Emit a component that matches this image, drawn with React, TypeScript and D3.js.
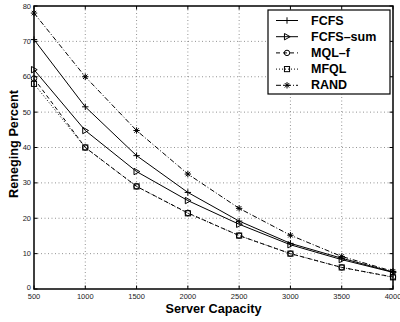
import React from "react";
import * as d3 from "d3";

const capacities = [500, 1000, 1500, 2000, 2500, 3000, 3500, 4000];
const fcfs = [70.5, 51.5, 37.7, 27.3, 19.2, 12.9, 8.7, 4.8];
const fcfsSum = [62, 44.8, 33.2, 25, 18.3, 12.5, 8.3, 4.7];
const mqlF = [59.5, 40, 29, 21.5, 15.1, 10, 6.1, 3.4];
const mfql = [58, 40, 29, 21.4, 15.1, 10, 6.1, 3.3];
const rand = [78, 60, 44.8, 32.5, 22.8, 15.2, 9.2, 5];
const seriesNames = ["FCFS", "FCFS\u2013sum", "MQL\u2013f", "MFQL", "RAND"];
const xTicks = [500, 1000, 1500, 2000, 2500, 3000, 3500, 4000];
const yTicks = [0, 10, 20, 30, 40, 50, 60, 70, 80];

const W = 400, H = 322;
const L = 34, R = 393, T = 6, B = 289;

type Mk = "plus" | "tri" | "circle" | "square" | "star";
const series: { name: string; values: number[]; dash: string; marker: Mk }[] = [
  { name: seriesNames[0], values: fcfs, dash: "none", marker: "plus" },
  { name: seriesNames[1], values: fcfsSum, dash: "none", marker: "tri" },
  { name: seriesNames[2], values: mqlF, dash: "4,3", marker: "circle" },
  { name: seriesNames[3], values: mfql, dash: "1,2", marker: "square" },
  { name: seriesNames[4], values: rand, dash: "5,2,1,2", marker: "star" },
];

function Marker({ kind, x, y }: { kind: Mk; x: number; y: number }) {
  const s = 3.2;
  const st = { stroke: "#000", strokeWidth: 1, fill: "none" } as const;
  if (kind === "plus")
    return <path d={`M${x - s},${y}H${x + s}M${x},${y - s}V${y + s}`} {...st} />;
  if (kind === "tri")
    return <path d={`M${x - s * 0.8},${y - s}L${x + s},${y}L${x - s * 0.8},${y + s}Z`} {...st} />;
  if (kind === "circle") return <circle cx={x} cy={y} r={s * 0.85} {...st} />;
  if (kind === "square")
    return <rect x={x - s * 0.8} y={y - s * 0.8} width={s * 1.6} height={s * 1.6} {...st} />;
  const a = s * 0.7;
  return (
    <path
      d={`M${x - s},${y}H${x + s}M${x},${y - s}V${y + s}M${x - a},${y - a}L${x + a},${y + a}M${x - a},${y + a}L${x + a},${y - a}`}
      {...st}
    />
  );
}

export default function App() {
  const x = d3.scaleLinear().domain([500, 4000]).range([L, R]);
  const y = d3.scaleLinear().domain([0, 80]).range([B, T]);
  const line = d3
    .line<number>()
    .x((_, i) => x(capacities[i]))
    .y((d) => y(d));
  const tick = 3.5;
  const lx0 = 268, ly0 = 10, lw = 122, lh = 84;
  const rowY = (i: number) => 20.5 + i * 16.2;
  return (
    <svg
      width={W}
      height={H}
      style={{ position: "absolute", left: 0, top: 0, background: "#fff" }}
      fontFamily="Liberation Sans, Arial, sans-serif"
    >
      <rect x={0} y={0} width={W} height={H} fill="#fff" />
      {/* grid */}
      {xTicks.slice(1, -1).map((t) => (
        <line key={"gx" + t} x1={x(t)} x2={x(t)} y1={T} y2={B} stroke="#777" strokeWidth={0.8} strokeDasharray="1,2.5" />
      ))}
      {yTicks.slice(1, -1).map((t) => (
        <line key={"gy" + t} x1={L} x2={R} y1={y(t)} y2={y(t)} stroke="#777" strokeWidth={0.8} strokeDasharray="1,2.5" />
      ))}
      {/* ticks */}
      {xTicks.map((t) => (
        <g key={"tx" + t}>
          <line x1={x(t)} x2={x(t)} y1={B} y2={B - tick} stroke="#000" />
          <line x1={x(t)} x2={x(t)} y1={T} y2={T + tick} stroke="#000" />
          <text x={x(t)} y={B + 7} fontSize={7.5} textAnchor="middle" dominantBaseline="central" fill="#222">
            {t}
          </text>
        </g>
      ))}
      {yTicks.map((t) => (
        <g key={"ty" + t}>
          <line x1={L} x2={L + tick} y1={y(t)} y2={y(t)} stroke="#000" />
          <line x1={R} x2={R - tick} y1={y(t)} y2={y(t)} stroke="#000" />
          <text x={L - 3} y={y(t) - (t === 0 ? 2 : 0)} fontSize={7.5} textAnchor="end" dominantBaseline="central" fill="#222">
            {t}
          </text>
        </g>
      ))}
      {/* series */}
      {series.map((s) => (
        <g key={s.name}>
          <path d={line(s.values) || ""} fill="none" stroke="#000" strokeWidth={1} strokeDasharray={s.dash} />
          {s.values.map((v, i) => (
            <Marker key={i} kind={s.marker} x={x(capacities[i])} y={y(v)} />
          ))}
        </g>
      ))}
      {/* box */}
      <rect x={L} y={T} width={R - L} height={B - T} fill="none" stroke="#000" strokeWidth={1.5} />
      {/* legend */}
      <rect x={lx0} y={ly0} width={lw} height={lh} fill="#fff" stroke="#000" strokeWidth={1.2} />
      {series.map((s, i) => (
        <g key={"lg" + s.name}>
          <line x1={276} x2={298} y1={rowY(i)} y2={rowY(i)} stroke="#000" strokeDasharray={s.dash} />
          <Marker kind={s.marker} x={287} y={rowY(i)} />
          <text x={311} y={rowY(i)} fontSize={12.5} fontWeight="bold" dominantBaseline="central">
            {s.name}
          </text>
        </g>
      ))}
      {/* axis titles */}
      <text x={(L + R) / 2} y={308.5} fontSize={12.7} fontWeight="bold" textAnchor="middle" dominantBaseline="central">
        Server Capacity
      </text>
      <text
        transform={`translate(13.5,144) rotate(-90)`}
        fontSize={12.7}
        fontWeight="bold"
        textAnchor="middle"
        dominantBaseline="central"
      >
        Reneging Percent
      </text>
    </svg>
  );
}
